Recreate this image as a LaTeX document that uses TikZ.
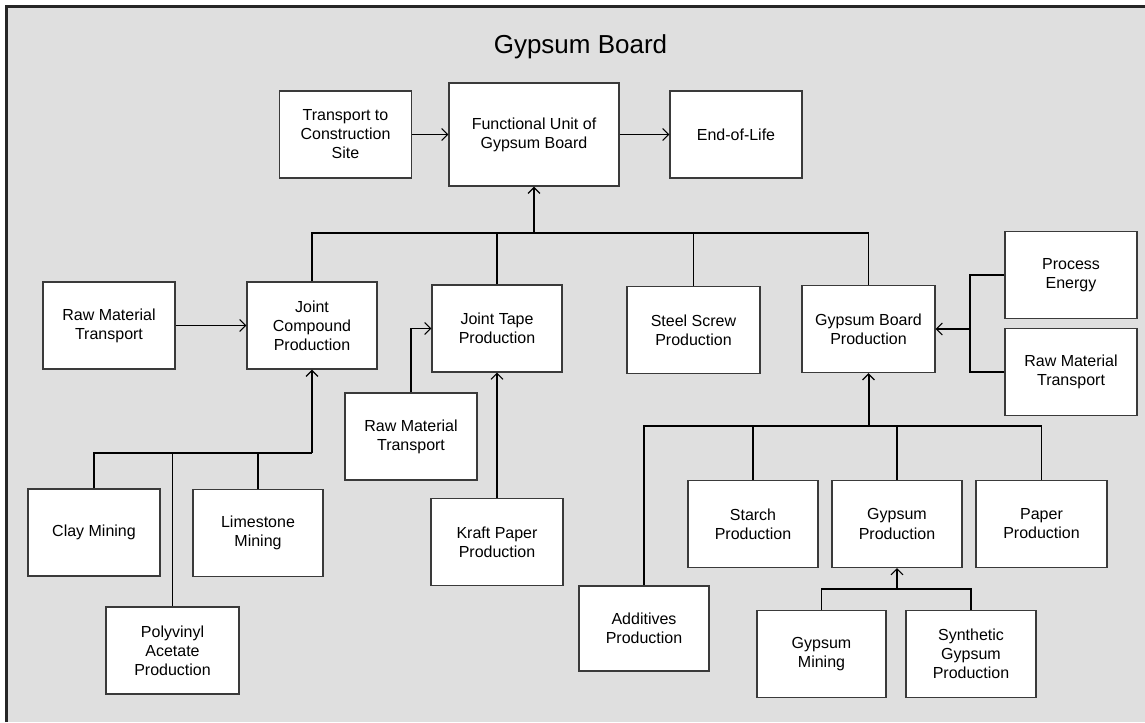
\documentclass[tikz,border=0pt]{standalone}
\usepackage{fontspec}
\setmainfont{Liberation Sans}
\usetikzlibrary{arrows.meta}
\definecolor{bgray}{HTML}{DFDFDF}
\definecolor{boxline}{HTML}{3A3A3A}
\tikzset{
  box/.style={draw=boxline, fill=white, line width=0.8pt, minimum width=99pt, minimum height=65.25pt,
    inner sep=1pt, align=center, font=\fontsize{12}{14.3}\selectfont},
  conn/.style={draw=black, line width=0.85pt},
  arr/.style={conn, -{Straight Barb[length=4.5pt,width=9pt,line width=0.85pt]}},
  trunk/.style={draw=black, line width=1.5pt, -{Straight Barb[length=4.5pt,width=9pt,line width=1pt]}}
}
\begin{document}
\begin{tikzpicture}[x=0.75pt,y=-0.75pt]
\useasboundingbox (0,0) rectangle (1145,722);
\fill[white] (0,0) rectangle (1145,722);
\fill[bgray] (6,6) rectangle (1145,722);
\draw[line width=1.6pt, draw=black!85] (6.5,722) -- (6.5,6.5) -- (1145,6.5);

\node[font=\fontsize{19.5}{22}\selectfont, anchor=base] (title) at (580.5,53) {Gypsum Board};

\node[box] (tcs) at (345.5,134.5) {Transport to\\Construction\\Site};
\node[box, minimum width=127.5pt, minimum height=77.25pt] (fu) at (534,134.5) {Functional Unit of\\Gypsum Board};
\node[box] (eol) at (736,134.5) {End-of-Life};

\node[box] (rmta) at (109,325.5) {Raw Material\\Transport};
\node[box, minimum width=97.5pt] (jc) at (312,325.5) {Joint\\Compound\\Production};
\node[box, minimum width=97.5pt] (jt) at (497,328.5) {Joint Tape\\Production};
\node[box, minimum width=99.75pt] (ss) at (693.5,330) {Steel Screw\\Production};
\node[box, minimum width=99.75pt] (gbp) at (868.5,329) {Gypsum Board\\Production};
\node[box] (pe) at (1071,275) {Process\\Energy};
\node[box] (rmtc) at (1071,372) {Raw Material\\Transport};

\node[box] (rmtb) at (411,436.5) {Raw Material\\Transport};
\node[box] (kp) at (497,542) {Kraft Paper\\Production};

\node[box] (clay) at (94,532.5) {Clay Mining};
\node[box, minimum width=97.5pt] (lime) at (258,533) {Limestone\\Mining};
\node[box, minimum width=99.75pt] (pva) at (172.5,650.5) {Polyvinyl\\Acetate\\Production};

\node[box, minimum width=97.5pt] (starch) at (753,524) {Starch\\Production};
\node[box, minimum width=97.5pt] (gp) at (897,524) {Gypsum\\Production};
\node[box, minimum width=98.25pt] (paper) at (1041.5,524) {Paper\\Production};
\node[box, minimum width=97.5pt, minimum height=63.75pt] (add) at (644,628.5) {Additives\\Production};
\node[box, minimum width=96.75pt] (gm) at (821.5,654) {Gypsum\\Mining};
\node[box, minimum width=97.5pt] (sgp) at (971,654) {Synthetic\\Gypsum\\Production};

% top row arrows
\draw[arr] (tcs.east) -- (fu.west);
\draw[arr] (fu.east) -- (eol.west);

% bus into functional unit
\coordinate (b1) at (534,233);
\draw[conn] (jc.north) -- (jc.north |- b1) -- (gbp.north |- b1) -- (gbp.north);
\draw[conn] (jt.north) -- (jt.north |- b1);
\draw[conn] (ss.north) -- (ss.north |- b1);
\draw[trunk] (b1) -- (fu.south);

% joint compound inputs
\draw[arr] (rmta.east) -- (jc.west);
\coordinate (b2) at (312,453);
\draw[conn] (clay.north) |- (b2);
\draw[conn] (pva.north) -- (pva.north |- b2);
\draw[conn] (lime.north) -- (lime.north |- b2);
\draw[line width=1.5pt] (lime.north |- b2) -- (b2);
\draw[trunk] (b2) -- (jc.south);

% joint tape inputs
\draw[arr] (rmtb.north) |- (jt.west);
\draw[arr] (kp.north) -- (jt.south);

% gypsum board production inputs
\coordinate (b3) at (970,329);
\draw[conn] (pe.west) -| (b3);
\draw[conn] (rmtc.west) -| (b3);
\draw[arr] (b3) -- (gbp.east);

\coordinate (b4) at (868.5,426);
\draw[conn] (add.north) |- (paper.north |- b4) -- (paper.north);
\draw[conn] (starch.north) -- (starch.north |- b4);
\draw[conn] (gp.north) -- (gp.north |- b4);
\draw[trunk] (b4) -- (gbp.south);

% gypsum production inputs
\coordinate (b5) at (897,589);
\draw[conn] (gm.north) |- (sgp.north |- b5) -- (sgp.north);
\draw[arr] (b5) -- (gp.south);
\end{tikzpicture}
\end{document}
